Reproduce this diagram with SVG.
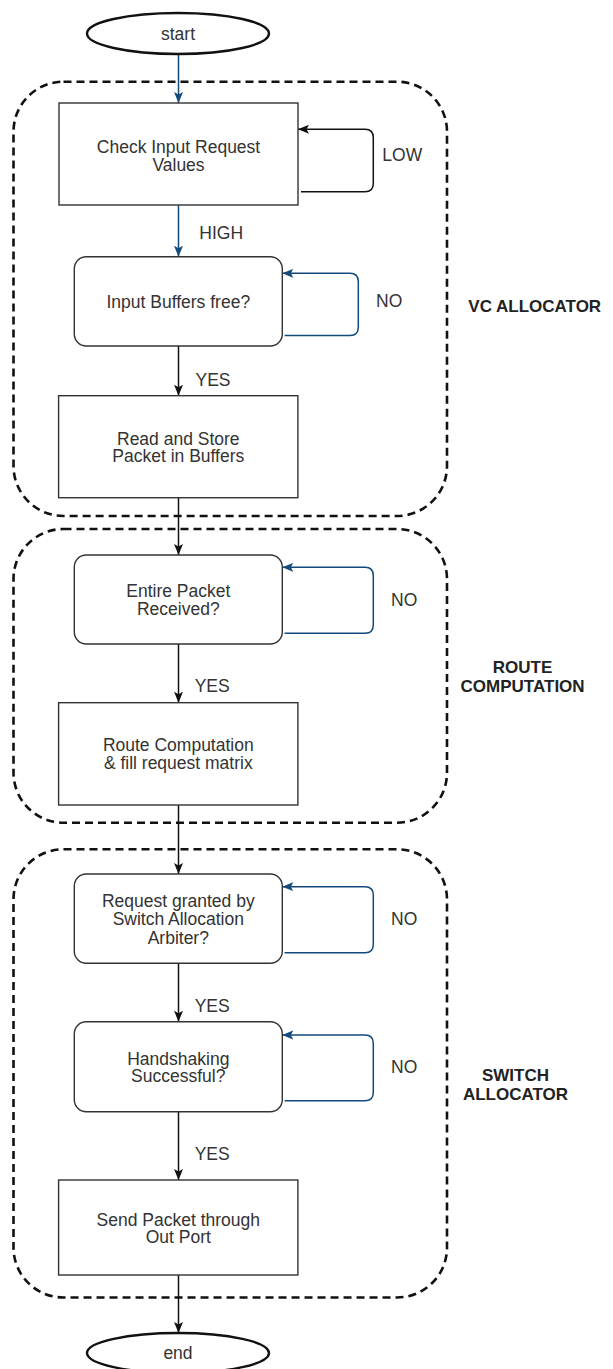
<svg xmlns="http://www.w3.org/2000/svg" width="613" height="1369" viewBox="0 0 613 1369">
<defs>
<style>
.node{fill:#fff;stroke:#333;stroke-width:1.4}
.term{fill:#fff;stroke:#111;stroke-width:2.4}
.grp{fill:none;stroke:#111;stroke-width:2.6;stroke-dasharray:8 5}
.t{font-family:"Liberation Sans",Arial,sans-serif;font-size:17.5px;fill:#333;text-anchor:middle}
.lbl{font-family:"Liberation Sans",Arial,sans-serif;font-size:17.5px;fill:#333}
.sec{font-family:"Liberation Sans",Arial,sans-serif;font-size:17px;font-weight:bold;fill:#222}
.ck{fill:none;stroke:#111;stroke-width:1.5}
.cb{fill:none;stroke:#124a7c;stroke-width:1.5}
</style>
<marker id="ak" markerUnits="userSpaceOnUse" markerWidth="12" markerHeight="12" viewBox="0 0 12 12" refX="11" refY="6" orient="auto">
<path d="M0,1.5 L11,6 L0,10.5 L2.5,6 z" fill="#111"/>
</marker>
<marker id="ab" markerUnits="userSpaceOnUse" markerWidth="12" markerHeight="12" viewBox="0 0 12 12" refX="11" refY="6" orient="auto">
<path d="M0,1.5 L11,6 L0,10.5 L2.5,6 z" fill="#124a7c"/>
</marker>
</defs>
<rect width="613" height="1369" fill="#fff"/>

<g id="groups">
<rect id="grp-vc" class="grp" x="13.5" y="81.7" width="433.5" height="434.3" rx="50" ry="50"/>
<rect id="grp-route" class="grp" x="13.5" y="529" width="433.5" height="293.7" rx="50" ry="50"/>
<rect id="grp-switch" class="grp" x="13.5" y="849.3" width="433.5" height="448.2" rx="50" ry="50"/>
<text class="sec" x="468.3" y="311.5">VC ALLOCATOR</text>
<text class="sec" x="522.6" y="673" text-anchor="middle">ROUTE</text>
<text class="sec" x="522.6" y="691.5" text-anchor="middle">COMPUTATION</text>
<text class="sec" x="515.5" y="1081" text-anchor="middle">SWITCH</text>
<text class="sec" x="515.5" y="1099.5" text-anchor="middle">ALLOCATOR</text>
</g>

<g id="connectors">
<path class="cb" d="M178.5,54 V103" marker-end="url(#ab)"/>
<path class="cb" d="M178.5,205 V256.7" marker-end="url(#ab)"/>
<path class="ck" d="M178.5,346 V395.7" marker-end="url(#ak)"/>
<path class="ck" d="M178.5,497.7 V555" marker-end="url(#ak)"/>
<path class="ck" d="M178.5,644 V702.7" marker-end="url(#ak)"/>
<path class="ck" d="M178.5,805 V874" marker-end="url(#ak)"/>
<path class="ck" d="M178.5,963.3 V1021.7" marker-end="url(#ak)"/>
<path class="ck" d="M178.5,1111.7 V1180" marker-end="url(#ak)"/>
<path class="ck" d="M178.5,1275 V1333" marker-end="url(#ak)"/>
<path class="ck" d="M301,191.7 H365 Q373.3,191.7 373.3,183.4 V137.6 Q373.3,129.3 365,129.3 H298" marker-end="url(#ak)"/>
<path class="cb" d="M284.6,335.5 H350 Q358.3,335.5 358.3,327.2 V281.6 Q358.3,273.3 350,273.3 H282.3" marker-end="url(#ab)"/>
<path class="cb" d="M284.6,633.3 H365 Q373.3,633.3 373.3,625 V575.6 Q373.3,567.3 365,567.3 H282.3" marker-end="url(#ab)"/>
<path class="cb" d="M284.6,952.7 H365 Q373.3,952.7 373.3,944.4 V895 Q373.3,886.7 365,886.7 H282.3" marker-end="url(#ab)"/>
<path class="cb" d="M284.6,1100.7 H365 Q373.3,1100.7 373.3,1092.4 V1043.3 Q373.3,1035 365,1035 H282.3" marker-end="url(#ab)"/>
<text class="lbl" x="382.3" y="161.3">LOW</text>
<text class="lbl" x="199.3" y="238.6">HIGH</text>
<text class="lbl" x="376" y="307">NO</text>
<text class="lbl" x="195.5" y="385.5">YES</text>
<text class="lbl" x="391" y="605.5">NO</text>
<text class="lbl" x="194.7" y="692">YES</text>
<text class="lbl" x="391" y="925">NO</text>
<text class="lbl" x="194.7" y="1011.7">YES</text>
<text class="lbl" x="391" y="1072.7">NO</text>
<text class="lbl" x="194.7" y="1160">YES</text>
</g>

<g id="start">
<ellipse class="term" cx="178" cy="33.5" rx="91" ry="20.5"/>
<text class="t" x="178" y="39.5">start</text>
</g>
<g id="check">
<rect class="node" x="59" y="103" width="239" height="102"/>
<text class="t" x="178.5" y="152.5">Check Input Request</text>
<text class="t" x="178.5" y="170.7">Values</text>
</g>
<g id="input-free">
<rect class="node" x="74.3" y="256.7" width="208" height="89.3" rx="12" ry="12"/>
<text class="t" x="178.3" y="307.7">Input Buffers free?</text>
</g>
<g id="read-store">
<rect class="node" x="58.6" y="395.7" width="239.3" height="102"/>
<text class="t" x="178.3" y="444.5">Read and Store</text>
<text class="t" x="178.3" y="462.2">Packet in Buffers</text>
</g>
<g id="entire">
<rect class="node" x="74.3" y="555" width="208" height="89" rx="12" ry="12"/>
<text class="t" x="178.3" y="596.9">Entire Packet</text>
<text class="t" x="178.3" y="614.5">Received?</text>
</g>
<g id="route">
<rect class="node" x="58.6" y="702.7" width="239.3" height="102.3"/>
<text class="t" x="178.3" y="751.2">Route Computation</text>
<text class="t" x="178.3" y="768.9">&amp; fill request matrix</text>
</g>
<g id="request">
<rect class="node" x="74.3" y="874" width="208" height="89.3" rx="12" ry="12"/>
<text class="t" x="178.3" y="907.2">Request granted by</text>
<text class="t" x="178.3" y="925.2">Switch Allocation</text>
<text class="t" x="178.3" y="943.5">Arbiter?</text>
</g>
<g id="handshake">
<rect class="node" x="74.3" y="1021.7" width="208" height="90" rx="12" ry="12"/>
<text class="t" x="178.3" y="1064.5">Handshaking</text>
<text class="t" x="178.3" y="1082.2">Successful?</text>
</g>
<g id="send">
<rect class="node" x="58.6" y="1180" width="239.3" height="95"/>
<text class="t" x="178.3" y="1225.5">Send Packet through</text>
<text class="t" x="178.3" y="1243.2">Out Port</text>
</g>
<g id="end">
<ellipse class="term" cx="178" cy="1353" rx="91" ry="20"/>
<text class="t" x="178" y="1359">end</text>
</g>
</svg>
